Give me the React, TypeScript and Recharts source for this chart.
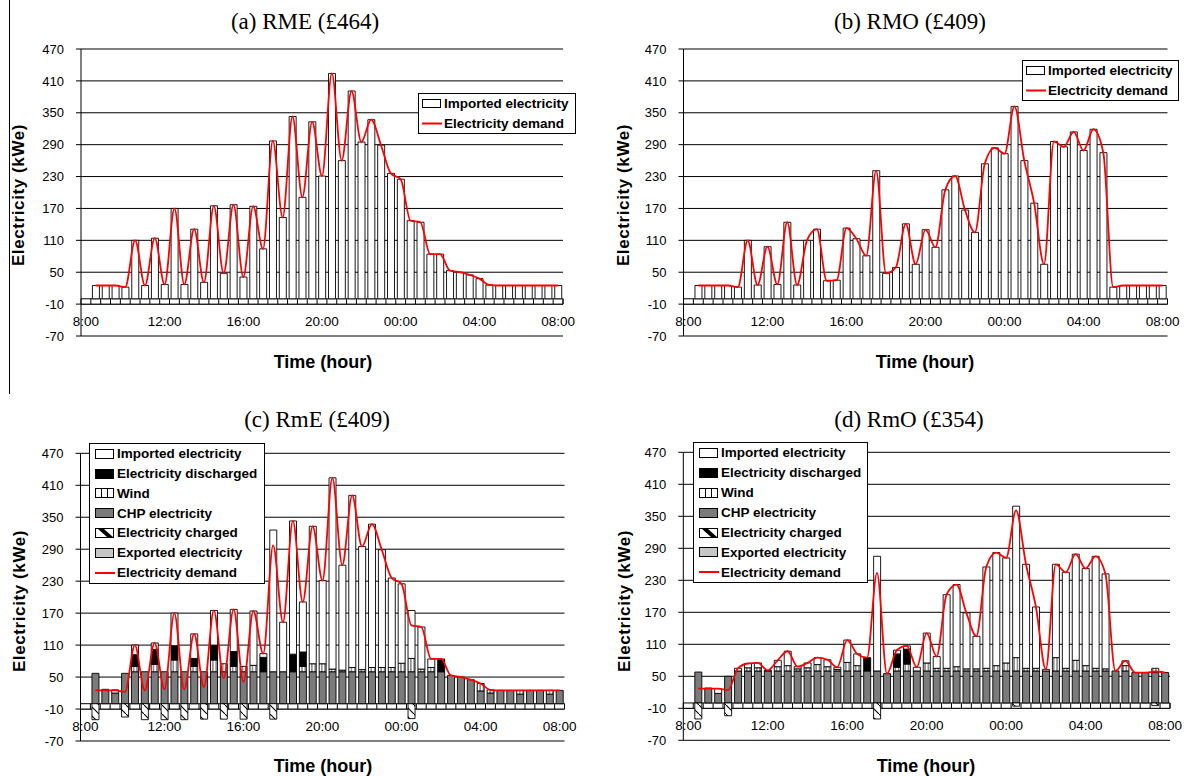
import React from 'react';
import {
  ComposedChart,
  Bar,
  Line,
  XAxis,
  YAxis,
  CartesianGrid,
  ReferenceArea,
  ReferenceLine,
} from 'recharts';

const _ = null;

// 30-minute time slots, 8:00 to 08:00 next day
const times = [
  '8:00', '8:30', '9:00', '9:30', '10:00', '10:30', '11:00', '11:30',
  '12:00', '12:30', '13:00', '13:30', '14:00', '14:30', '15:00', '15:30',
  '16:00', '16:30', '17:00', '17:30', '18:00', '18:30', '19:00', '19:30',
  '20:00', '20:30', '21:00', '21:30', '22:00', '22:30', '23:00', '23:30',
  '00:00', '00:30', '01:00', '01:30', '02:00', '02:30', '03:00', '03:30',
  '04:00', '04:30', '05:00', '05:30', '06:00', '06:30', '07:00', '07:30',
  '08:00',
];
const xTicks = ['8:00', '12:00', '16:00', '20:00', '00:00', '04:00', '08:00'];
const yTicks = [-70, -10, 50, 110, 170, 230, 290, 350, 410, 470];

// (a) RME
const demandRME = [_, 25, 25, 25, 22, 110, 25, 114, 27, 170, 27, 131, 31, 175, 48, 177, 41, 174, 94, 297, 153, 343, 191, 333, 231, 424, 260, 391, 295, 337, 289, 236, 225, 147, 144, 84, 84, 53, 50, 45, 38, 26, 25, 25, 25, 25, 25, 25, 25];
const importedRME = [_, 25, 25, 25, 22, 110, 25, 114, 27, 170, 27, 131, 31, 175, 48, 177, 41, 174, 94, 297, 153, 343, 191, 333, 231, 424, 260, 391, 295, 337, 289, 236, 225, 147, 144, 84, 84, 53, 50, 45, 38, 26, 25, 25, 25, 25, 25, 25, 25];

// (b) RMO
const demandRMO = [_, 25, 25, 25, 25, 22, 110, 26, 98, 27, 144, 26, 110, 131, 34, 35, 133, 113, 81, 241, 48, 59, 141, 65, 130, 97, 205, 231, 167, 125, 254, 284, 273, 362, 260, 180, 65, 296, 286, 314, 279, 319, 275, 22, 25, 25, 25, 25, 25];
const importedRMO = [_, 25, 25, 25, 25, 22, 110, 26, 98, 27, 144, 26, 110, 131, 34, 35, 133, 113, 81, 241, 48, 59, 141, 65, 130, 97, 205, 231, 167, 125, 254, 284, 273, 362, 260, 180, 65, 296, 286, 314, 279, 319, 275, 22, 25, 25, 25, 25, 25];

// (c) RmE
const demandRmE = [_, 25, 25, 25, 22, 110, 25, 114, 27, 170, 27, 131, 31, 175, 48, 177, 41, 174, 94, 297, 153, 343, 191, 333, 231, 424, 260, 391, 295, 337, 289, 236, 225, 147, 144, 84, 84, 53, 50, 45, 38, 26, 25, 25, 25, 25, 25, 25, 25];
const chpRmE = [_, 57, 27, 20, 57, 60, 60, 60, 60, 60, 60, 60, 60, 60, 60, 60, 60, 60, 60, 60, 60, 60, 60, 60, 60, 60, 60, 60, 60, 60, 60, 60, 60, 60, 60, 60, 60, 53, 50, 45, 24, 20, 25, 25, 18, 25, 25, 18, 25];
const windRmE = [_, _, _, _, _, 10, _, 14, _, 22, _, 10, _, 22, 15, 10, 10, 12, _, _, _, _, 10, 15, 15, 5, 3, 8, 4, 8, 8, 8, 16, 25, 5, 8, _, _, _, _, 14, 6, _, _, 7, _, _, 7, _];
const dischargedRmE = [_, _, _, _, _, 22, _, 28, _, 27, _, 15, _, 28, _, 28, _, _, 27, _, _, 33, 27, _, _, _, _, _, _, _, _, _, _, _, _, _, 22, _, _, _, _, _, _, _, _, _, _, _, _];
const importedRmE = [_, _, _, 6, _, 18, _, 12, _, 61, _, 46, _, 65, _, 79, _, 102, 7, 266, 93, 250, 94, 258, 156, 359, 197, 323, 231, 269, 221, 168, 149, 90, 79, 16, 2, _, _, _, _, _, _, _, _, _, _, _, _];
const chargedRmE = [_, -30, _, _, -25, _, -30, _, -30, _, -30, _, -29, _, -29, _, -29, _, _, -29, _, _, _, _, _, _, _, _, _, _, _, _, _, -28, _, _, _, _, _, _, _, _, _, _, _, _, _, _, _];
const exportedRmE = [_, _, _, _, _, _, _, _, _, _, _, _, _, _, _, _, _, _, _, _, _, _, _, _, _, _, _, _, _, _, _, _, _, _, _, _, _, _, _, _, _, _, _, _, _, _, _, _, _];

// (d) RmO
const demandRmO = [_, 27, 27, 27, 24, 65, 74, 75, 61, 80, 97, 68, 75, 85, 81, 67, 118, 92, 85, 244, 55, 99, 107, 67, 131, 87, 203, 222, 169, 125, 255, 282, 272, 361, 260, 180, 63, 260, 245, 279, 252, 275, 242, 60, 79, 57, 57, 59, 57];
const chpRmO = [_, 58, 28, 18, 50, 60, 60, 60, 60, 60, 60, 60, 60, 60, 60, 60, 60, 60, 60, 60, 55, 60, 60, 60, 60, 60, 60, 60, 60, 60, 60, 60, 60, 60, 60, 60, 60, 60, 60, 60, 60, 60, 60, 60, 60, 57, 57, 57, 57];
const windRmO = [_, _, _, _, _, _, 6, 6, _, 8, 10, 4, 6, 12, 8, 3, 16, 10, _, _, _, 7, 13, _, 15, 5, 5, 8, 4, 4, 5, 10, 15, 25, 5, 5, _, 25, 5, 20, 10, 5, 4, _, 10, _, _, 8, _];
const dischargedRmO = [_, _, _, _, _, _, _, _, _, _, _, _, _, _, _, _, _, _, 25, _, _, 25, 28, _, _, _, _, _, _, _, _, _, _, _, _, _, _, _, _, _, _, _, _, _, _, _, _, _, _];
const importedRmO = [_, _, _, 9, _, 5, 8, 9, 1, 12, 27, 4, 9, 13, 13, 4, 42, 22, _, 215, _, 7, 6, 7, 56, 22, 138, 154, 105, 61, 190, 212, 197, 284, 195, 115, 3, 175, 180, 199, 182, 210, 178, _, 9, _, _, _, _];
const chargedRmO = [_, -30, _, _, -24, _, _, _, _, _, _, _, _, _, _, _, _, _, _, -30, _, _, _, _, _, _, _, _, _, _, _, _, _, -6, _, _, _, _, _, _, _, _, _, _, _, _, _, -5, _];
const exportedRmO = [_, _, _, _, _, _, _, _, _, _, _, _, _, _, _, _, _, _, _, _, _, _, _, _, _, _, _, _, _, _, _, _, _, _, _, _, _, _, _, _, _, _, _, _, _, _, _, _, _];

const legendSimple = [
  { label: 'Imported electricity', kind: 'imported' },
  { label: 'Electricity demand', kind: 'line' },
];
const legendFull = [
  { label: 'Imported electricity', kind: 'imported' },
  { label: 'Electricity discharged', kind: 'discharged' },
  { label: 'Wind', kind: 'wind' },
  { label: 'CHP electricity', kind: 'chp' },
  { label: 'Electricity charged', kind: 'charged' },
  { label: 'Exported electricity', kind: 'exported' },
  { label: 'Electricity demand', kind: 'line' },
];

const SANS = '"Liberation Sans", Arial, Helvetica, sans-serif';
const SERIF = '"Liberation Serif", "Times New Roman", serif';
const CHP_FILL = '#7b7b7b';
const EXP_FILL = '#c6c6c6';

const rowsSimple = (demand: any[], imported: any[]) =>
  times.map((t, i) => ({ time: t, demand: demand[i], imported: imported[i] }));

const rowsFull = (demand: any[], chp: any[], wind: any[], dis: any[], imp: any[], chg: any[], exp: any[]) =>
  times.map((t, i) => ({
    time: t,
    demand: demand[i],
    chp: chp[i],
    wind: wind[i],
    discharged: dis[i],
    imported: imp[i],
    charged: chg[i],
    exported: exp[i],
  }));

function Panel({ box, margin, rows, stacked, id }: any) {
  const barStroke = { stroke: '#000', strokeWidth: 0.9 };
  const bars = stacked
    ? [
        <Bar key="chp" dataKey="chp" stackId="s" fill={CHP_FILL} {...barStroke} isAnimationActive={false} />,
        <Bar key="wind" dataKey="wind" stackId="s" fill={`url(#wind-${id})`} {...barStroke} isAnimationActive={false} />,
        <Bar key="dis" dataKey="discharged" stackId="s" fill="#000" {...barStroke} isAnimationActive={false} />,
        <Bar key="imp" dataKey="imported" stackId="s" fill="#fff" {...barStroke} isAnimationActive={false} />,
        <Bar key="chg" dataKey="charged" stackId="s" fill={`url(#hatch-${id})`} {...barStroke} isAnimationActive={false} />,
        <Bar key="exp" dataKey="exported" stackId="s" fill={EXP_FILL} {...barStroke} isAnimationActive={false} />,
      ]
    : [<Bar key="imp" dataKey="imported" stackId="s" fill="#fff" {...barStroke} isAnimationActive={false} />];
  return (
    <div style={{ position: 'absolute', left: box.left, top: box.top, width: box.width, height: box.height }}>
      <ComposedChart
        width={box.width}
        height={box.height}
        data={rows}
        margin={margin}
        stackOffset="sign"
        barCategoryGap="16%"
      >
        <defs>
          <pattern id={`wind-${id}`} patternUnits="userSpaceOnUse" width={3.3} height={6}>
            <rect width={3.3} height={6} fill="#fff" />
            <line x1={1.65} y1={0} x2={1.65} y2={6} stroke="#000" strokeWidth={0.8} />
          </pattern>
          <pattern id={`hatch-${id}`} patternUnits="userSpaceOnUse" width={9} height={9}>
            <rect width={9} height={9} fill="#fff" />
            <path d="M-1,-1 L10,10" stroke="#000" strokeWidth={1.1} />
          </pattern>
        </defs>
        <CartesianGrid vertical={false} stroke="#000" strokeWidth={1} />
        <XAxis
          dataKey="time"
          interval={0}
          tickFormatter={(v: any) => (xTicks.includes(v) ? v : '')}
          mirror
          height={1}
          tickSize={0}
          tickMargin={10}
          tickLine={false}
          axisLine={false}
          tick={{ fill: '#000', fontSize: 13.5, fontFamily: SANS }}
        />
        <YAxis
          type="number"
          domain={[-70, 470]}
          ticks={yTicks}
          interval={0}
          width={70}
          tickSize={5}
          tickMargin={12}
          axisLine={{ stroke: '#000' }}
          tickLine={{ stroke: '#000' }}
          tick={{ fill: '#000', fontSize: 13, fontFamily: SANS }}
        />
        <ReferenceArea y1={-10} y2={0} fill="#fff" fillOpacity={1} stroke="#000" strokeWidth={1} />
        {bars}
        {times.map((t) => (
          <ReferenceLine
            key={`sep-${t}`}
            segment={[{ x: t, y: 0 }, { x: t, y: -10 }]}
            position="end"
            stroke="#000"
            strokeWidth={1}
          />
        ))}
        <Line
          type="monotone"
          dataKey="demand"
          stroke="#ff0000"
          strokeWidth={1.8}
          dot={false}
          activeDot={false}
          isAnimationActive={false}
        />
      </ComposedChart>
    </div>
  );
}

function Swatch({ kind, h }: any) {
  const w = 18;
  if (kind === 'line') {
    return (
      <svg width={20} height={h} style={{ display: 'block', flex: 'none' }}>
        <line x1={0} y1={h / 2} x2={20} y2={h / 2} stroke="#ff0000" strokeWidth={2} />
      </svg>
    );
  }
  const fill =
    kind === 'discharged' ? '#000' : kind === 'chp' ? CHP_FILL : kind === 'exported' ? EXP_FILL : '#fff';
  return (
    <svg width={20} height={h} style={{ display: 'block', flex: 'none' }}>
      <rect x={0.5} y={0.5} width={w} height={h - 1} fill={fill} stroke="#000" strokeWidth={1} />
      {kind === 'wind' && (
        <g stroke="#000" strokeWidth={1}>
          <line x1={6.5} y1={0.5} x2={6.5} y2={h - 0.5} />
          <line x1={12.5} y1={0.5} x2={12.5} y2={h - 0.5} />
        </g>
      )}
      {kind === 'charged' && <polygon points={`3,1 9,1 ${w},${h - 1} ${w - 6},${h - 1}`} fill="#000" />}
    </svg>
  );
}

function LegendBox({ left, top, width, rowH, padL, items, swH }: any) {
  return (
    <div
      style={{
        position: 'absolute',
        left,
        top,
        width,
        border: '1px solid #000',
        background: '#fff',
        boxSizing: 'border-box',
        fontFamily: SANS,
        fontWeight: 'bold',
        fontSize: 13.5,
        color: '#000',
      }}
    >
      {items.map((it: any) => (
        <div key={it.label} style={{ height: rowH, display: 'flex', alignItems: 'center', paddingLeft: padL }}>
          <Swatch kind={it.kind} h={swH} />
          <span style={{ marginLeft: 2, whiteSpace: 'nowrap', lineHeight: 1 }}>{it.label}</span>
        </div>
      ))}
    </div>
  );
}

function Txt({ x, y, children, style, rotate }: any) {
  return (
    <div
      style={{
        position: 'absolute',
        left: x,
        top: y,
        transform: `translate(-50%, -50%)${rotate ? ' rotate(-90deg)' : ''}`,
        whiteSpace: 'nowrap',
        color: '#000',
        lineHeight: 1,
        ...style,
      }}
    >
      {children}
    </div>
  );
}

const titleStyle = { fontFamily: SERIF, fontSize: 23 };
const yLabStyle = { fontFamily: SANS, fontWeight: 'bold', fontSize: 17, letterSpacing: 0.6 };
const xLabStyle = { fontFamily: SANS, fontWeight: 'bold', fontSize: 18 };

export default function App() {
  return (
    <div style={{ position: 'absolute', left: 0, top: 0, width: 1187, height: 776, background: '#fff', overflow: 'hidden' }}>
      <div style={{ position: 'absolute', left: 9, top: 0, width: 1, height: 394, background: '#000' }} />

      <Panel
        id="a"
        box={{ left: 0, top: 0, width: 600, height: 390 }}
        margin={{ top: 49, left: 11, right: 37, bottom: 54 }}
        rows={rowsSimple(demandRME, importedRME)}
        stacked={false}
      />
      <Panel
        id="b"
        box={{ left: 600, top: 0, width: 587, height: 390 }}
        margin={{ top: 49, left: 13.5, right: 19.5, bottom: 54 }}
        rows={rowsSimple(demandRMO, importedRMO)}
        stacked={false}
      />
      <Panel
        id="c"
        box={{ left: 0, top: 390, width: 600, height: 386 }}
        margin={{ top: 63.3, left: 10.5, right: 35.5, bottom: 35 }}
        rows={rowsFull(demandRmE, chpRmE, windRmE, dischargedRmE, importedRmE, chargedRmE, exportedRmE)}
        stacked
      />
      <Panel
        id="d"
        box={{ left: 600, top: 390, width: 587, height: 386 }}
        margin={{ top: 62.3, left: 13.3, right: 17, bottom: 35.7 }}
        rows={rowsFull(demandRmO, chpRmO, windRmO, dischargedRmO, importedRmO, chargedRmO, exportedRmO)}
        stacked
      />

      <Txt x={305} y={21} style={titleStyle}>(a) RME (£464)</Txt>
      <Txt x={910} y={21} style={titleStyle}>(b) RMO (£409)</Txt>
      <Txt x={317} y={419} style={titleStyle}>(c) RmE (£409)</Txt>
      <Txt x={909} y={419} style={titleStyle}>(d) RmO (£354)</Txt>

      <Txt x={18} y={195} rotate style={yLabStyle}>Electricity (kWe)</Txt>
      <Txt x={623} y={195} rotate style={yLabStyle}>Electricity (kWe)</Txt>
      <Txt x={19} y={601} rotate style={yLabStyle}>Electricity (kWe)</Txt>
      <Txt x={623.5} y={601} rotate style={yLabStyle}>Electricity (kWe)</Txt>

      <Txt x={323} y={362} style={xLabStyle}>Time (hour)</Txt>
      <Txt x={925} y={362} style={xLabStyle}>Time (hour)</Txt>
      <Txt x={323} y={766} style={xLabStyle}>Time (hour)</Txt>
      <Txt x={926} y={766} style={xLabStyle}>Time (hour)</Txt>

      <LegendBox left={418} top={93} width={158} rowH={19.5} padL={3} items={legendSimple} swH={9} />
      <LegendBox left={1022} top={60} width={157} rowH={19.5} padL={3} items={legendSimple} swH={9} />
      <LegendBox left={89} top={443} width={176} rowH={19.8} padL={5} items={legendFull} swH={10} />
      <LegendBox left={693} top={442} width={175} rowH={19.9} padL={5} items={legendFull} swH={10} />
    </div>
  );
}
